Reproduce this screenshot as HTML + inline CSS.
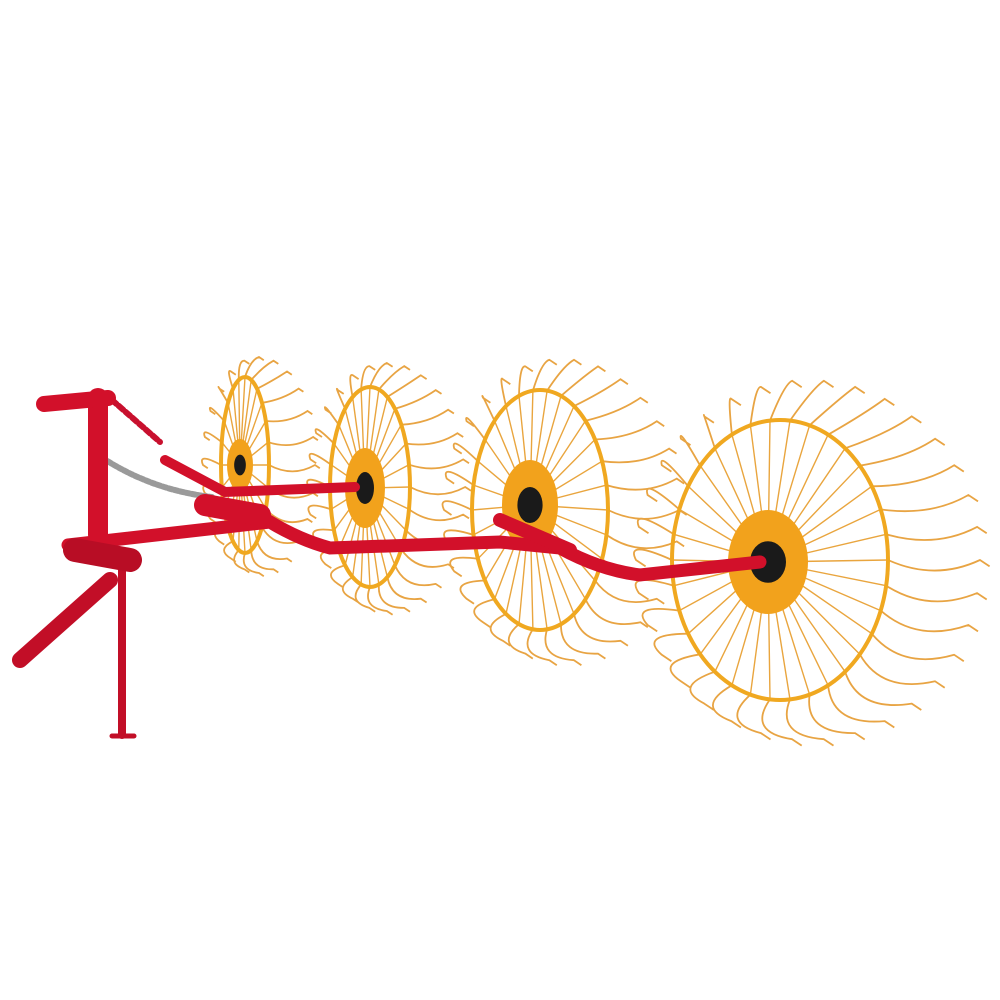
<!DOCTYPE html>
<html><head><meta charset="utf-8"><style>
html,body{margin:0;padding:0;background:#fff;width:1000px;height:1000px;overflow:hidden}
</style></head><body>
<svg id="s" width="1000" height="1000" viewBox="0 0 1000 1000" xmlns="http://www.w3.org/2000/svg">
<rect width="1000" height="1000" fill="#fff"/>
<g id="wheels"></g>
<g id="frame" stroke-linecap="round" fill="none">
 <path d="M98 455 Q150 490 212 497" stroke="#9a9a9a" stroke-width="6" stroke-dasharray="4 2"/>
 <path d="M112 400 L160 442" stroke="#c8102e" stroke-width="6" stroke-dasharray="6 3"/>
 <path d="M165 460 L225 492 L355 487" stroke="#d2102a" stroke-width="10"/>
 <path d="M68 545 L270 522 Q300 540 330 548 L500 542 L560 548 Q600 570 640 575 L760 562" stroke="#d2102a" stroke-width="13"/>
 <path d="M98 398 L98 535" stroke="#d2102a" stroke-width="20"/>
 <path d="M44 404 L108 398" stroke="#d2102a" stroke-width="16"/>
 <path d="M20 660 L110 580" stroke="#c20e27" stroke-width="16"/>
 <path d="M122 570 L122 735" stroke="#c20e27" stroke-width="8"/>
 <path d="M112 736 L134 736" stroke="#c20e27" stroke-width="5"/>
 <path d="M75 550 L130 560" stroke="#b80d25" stroke-width="24"/>
 <path d="M205 505 L260 515" stroke="#d2102a" stroke-width="22"/>
 <path d="M500 520 L570 550" stroke="#d2102a" stroke-width="14"/>
</g>
</svg>
<script>
const wheels=[
 {cx:245,cy:465,rx:24,ry:88,hx:240,hy:465,hr:[13,26],n:24,t:40},
 {cx:370,cy:487,rx:40,ry:100,hx:365,hy:488,hr:[20,40],n:28,t:48},
 {cx:540,cy:510,rx:68,ry:120,hx:530,hy:505,hr:[28,45],n:30,t:62},
 {cx:780,cy:560,rx:108,ry:140,hx:768,hy:562,hr:[40,52],n:34,t:80}
];
const NS="http://www.w3.org/2000/svg";
const g=document.getElementById('wheels');
function el(tag,attrs,parent){const e=document.createElementNS(NS,tag);for(const k in attrs)e.setAttribute(k,attrs[k]);parent.appendChild(e);return e;}
wheels.forEach((w,i)=>{
 const wg=el('g',{},g);
 
 
 let d='',td='';
 for(let k=0;k<w.n;k++){
  const a=k/w.n*Math.PI*2;
  const x=w.cx+w.rx*Math.cos(a),y=w.cy+w.ry*Math.sin(a);
  d+=`M${w.hx} ${w.hy}L${x.toFixed(1)} ${y.toFixed(1)}`;
  const ex=w.cx+(w.rx+w.t*0.8)*Math.cos(a)+w.t*0.35,ey=w.cy+(w.ry+w.t*0.5)*Math.sin(a);
  const mx=w.cx+(w.rx+w.t*0.6)*Math.cos(a+0.12),my=w.cy+(w.ry+w.t*0.45)*Math.sin(a+0.12);
  td+=`M${x.toFixed(1)} ${y.toFixed(1)}Q${mx.toFixed(1)} ${my.toFixed(1)} ${ex.toFixed(1)} ${ey.toFixed(1)}l${(w.t*0.12).toFixed(1)} ${(w.t*0.08).toFixed(1)}`;
 }
 const tines=el('path',{d:td,stroke:'#e8a443',"stroke-width":1.8,fill:'none'},wg);
 
 
 const sp=el('path',{d:d,stroke:'#e9a53e',"stroke-width":1.4,fill:'none'},wg);
 
 
 const rim=el('ellipse',{cx:w.cx,cy:w.cy,rx:w.rx,ry:w.ry,stroke:'#f0a820',"stroke-width":4,fill:'none'},wg);
 
 
 const hub=el('ellipse',{cx:w.hx,cy:w.hy,rx:w.hr[0],ry:w.hr[1],fill:'#f2a21c'},wg);
 
 
 const cap=el('ellipse',{cx:w.hx,cy:w.hy,rx:w.hr[0]*0.45,ry:w.hr[1]*0.4,fill:'#1a1a1a'},wg);
 
 
});
</script>
</body></html>
